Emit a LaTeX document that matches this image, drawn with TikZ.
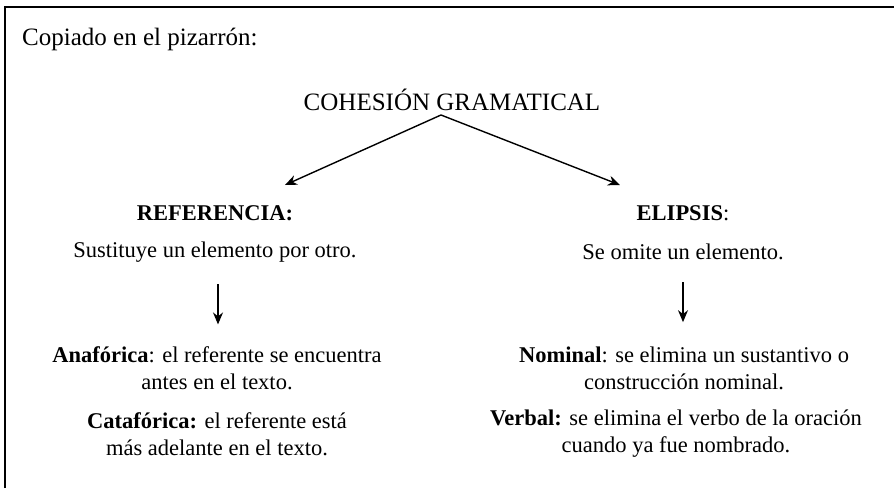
\documentclass[tikz,border=0pt]{standalone}
\usepackage{fontspec}
\setmainfont{Liberation Serif}
\usetikzlibrary{
  arrows.meta,
  positioning
}
\tikzset{
  texto/.style={
    align=center,
    inner sep=0pt,
    font=\fontsize{22.5}{27}\selectfont
  },
  titulo/.style={
    texto,
    font=\fontsize{25}{27}\selectfont
  },
  flecha/.style={
    draw,
    line width=1.4pt,
    -{Stealth[length=12pt,width=10pt]}
  },
  marco/.style={
    draw,
    line width=2.5pt
  }
}

\begin{document}
\begin{tikzpicture}[x=1pt,y=-1pt]
  \useasboundingbox (0,0) rectangle (894,488);
  \draw[marco] (5,488) |- (894,7);
  \node[titulo,anchor=west] (copiado) at (22,39) {Copiado en el pizarrón:};
  \node[titulo] (cohesion) at (452,100) {COHESIÓN GRAMATICAL};
  % rama izquierda
  \node[texto] (referencia) at (215,213) {\textbf{REFERENCIA:}};
  \node[texto] (sustituye) at (215,252) {Sustituye un elemento por otro.};
  \node[texto] (anaforica) at (217,368) {\textbf{Anafórica}: el referente se encuentra\\antes en el texto.};
  \node[texto] (catafórica) at (217,434) {\textbf{Catafórica:} el referente está\\más adelante en el texto.};
  % rama derecha
  \node[texto] (elipsis) at (683,213) {\textbf{ELIPSIS}:};
  \node[texto] (omite) at (683,252) {Se omite un elemento.};
  \node[texto] (nominal) at (684,368) {\textbf{Nominal}: se elimina un sustantivo o\\construcción nominal.};
  \node[texto] (verbal) at (676,434) {\textbf{Verbal:} se elimina el verbo de la oración\\cuando ya fue nombrado.};
  \coordinate (finI) at (285,185);
  \coordinate (finD) at (620,185);
  \coordinate (origen) at (441,115);
  \draw[flecha] (origen) -- (finI);
  \draw[flecha] (origen) -- (finD);
  \draw[flecha] (sustituye.south -| 218,0) ++(0,22) -- ++(0,40);
  \draw[flecha] (omite.south -| 683,0) ++(0,22) -- ++(0,40);
\end{tikzpicture}
\end{document}
